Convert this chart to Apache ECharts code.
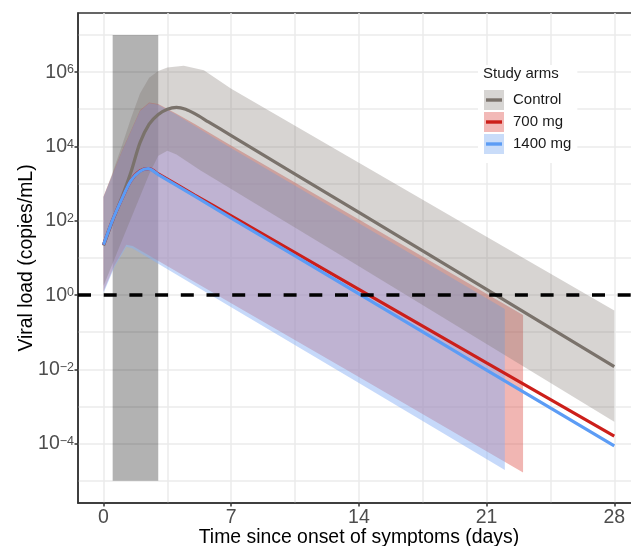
<!DOCTYPE html>
<html><head><meta charset="utf-8">
<script src="https://cdn.jsdelivr.net/npm/echarts@6/dist/echarts.min.js"></script>
<style>html,body{margin:0;padding:0;background:#fff}#c{width:631px;height:546px}</style>
</head><body><div id="c"></div>
<script>
// All y values are log10(viral load, copies/mL); x values are days since symptom onset
const arms = ['Control', '700 mg', '1400 mg'];

const controlLine = [[0,1.33],[0.5,2.0],[1.0,2.62],[1.5,3.3],[2.0,4.1],[2.5,4.6],[3.0,4.86],[3.5,5.0],[4.0,5.05],[4.5,5.0],[5.0,4.88],[5.75,4.66],[7,4.29],[14,2.22],[21,0.15],[28,-1.93]];
const line700 = [[0,1.35],[0.5,2.02],[1.0,2.58],[1.5,3.08],[2.0,3.34],[2.5,3.40],[3,3.26],[5,2.69],[7,2.13],[14,0.15],[21,-1.83],[28,-3.80]];
const line1400 = [[0,1.35],[0.5,2.02],[1.0,2.58],[1.5,3.08],[2.0,3.33],[2.45,3.40],[3,3.24],[5,2.66],[7,2.07],[14,0.03],[21,-2.02],[28,-4.06]];

const controlUpper = [[0,2.64],[0.5,3.3],[1,4.0],[1.5,4.75],[2,5.42],[2.5,5.85],[3,6.03],[3.5,6.12],[4.4,6.17],[5.5,6.05],[7,5.55],[14,3.56],[21,1.57],[28,-0.42]];
const controlLower = [[0,0.25],[0.5,0.85],[1,1.45],[1.5,2.05],[2,2.65],[2.5,3.25],[3,3.75],[3.5,3.88],[4,3.78],[5.3,3.36],[7,2.85],[14,0.77],[21,-1.32],[28,-3.41]];
const upper700 = [[0,2.66],[1,3.87],[2,4.97],[2.5,5.18],[3,5.14],[4,4.88],[5,4.6],[6.66,4.12],[14,2.03],[23,-0.54]];
const lower700 = [[0,0.1],[0.6,0.8],[1.25,1.35],[1.6,1.32],[7,-0.22],[14,-2.21],[23,-4.78]];
const upper1400 = [[0,2.64],[1,3.85],[2,4.95],[2.5,5.16],[3,5.12],[4,4.85],[5,4.55],[6.66,4.05],[14,1.93],[22,-0.38]];
const lower1400 = [[0,0.05],[0.6,0.75],[1.25,1.3],[1.6,1.25],[7,-0.33],[14,-2.37],[22,-4.71]];

const windowDays = [0.5, 3];      // shaded period
const windowLog = [-5, 7];
const detectionLimit = 1;         // copies/mL (dashed line)

const xMajor = [0, 7, 14, 21, 28];
const xGrid = [0, 3.5, 7, 10.5, 14, 17.5, 21, 24.5, 28];
const yMajor = [-4, -2, 0, 2, 4, 6];
const yGrid = [-5, -4, -3, -2, -1, 0, 1, 2, 3, 4, 5, 6, 7];

const FONT = 'Liberation Sans, Arial, sans-serif';
const lineColors = ['#7a726b', '#cc1f1a', '#5c9cf5'];
const bandColors = ['rgba(122,114,107,0.3)', 'rgba(222,80,75,0.42)', 'rgba(135,175,245,0.48)'];
const bandZ = [5, 3, 4];
const swatchColors = ['#d7d5d3', '#f2b9b7', '#c9dcf9'];

const bands = [[controlUpper, controlLower], [upper700, lower700], [upper1400, lower1400]];
const lines = [controlLine, line700, line1400];

const chart = echarts.init(document.getElementById('c'), null, {renderer: 'canvas'});

const series = [];
series.push({
  type: 'custom', name: 'window', silent: true, z: 1, clip: true,
  data: [[windowDays[0], windowLog[0]]],
  renderItem: (params, api) => {
    const p0 = api.coord([windowDays[0], windowLog[1]]);
    const p1 = api.coord([windowDays[1], windowLog[0]]);
    return {type: 'rect', shape: {x: p0[0], y: p0[1], width: p1[0] - p0[0], height: p1[1] - p0[1]},
            style: {fill: 'rgba(0,0,0,0.3)'}};
  }
});
bands.forEach((b, i) => {
  series.push({
    type: 'custom', name: arms[i] + ' band', silent: true, z: bandZ[i], clip: true,
    data: [[b[0][0][0], b[0][0][1]]],
    renderItem: (params, api) => {
      const pts = b[0].map(p => api.coord(p)).concat(b[1].slice().reverse().map(p => api.coord(p)));
      return {type: 'polygon', shape: {points: pts}, style: {fill: bandColors[i]}};
    }
  });
});
lines.forEach((d, i) => {
  series.push({
    type: 'line', name: arms[i], data: d, z: 6 + i, showSymbol: false, symbol: 'none',
    smooth: 0.3, silent: true,
    lineStyle: {color: lineColors[i], width: 3.2},
    itemStyle: {color: lineColors[i]}
  });
});
series.push({
  type: 'line', name: 'limit', data: [], silent: true, z: 20,
  markLine: {
    silent: true, symbol: ['none', 'none'], z: 20, animation: false,
    label: {show: false},
    lineStyle: {color: '#000', width: 3.5, type: [13, 12.7]},
    data: [{yAxis: Math.log10(detectionLimit)}]
  }
});

const tickLabelStyle = {color: '#4d4d4d', fontFamily: FONT, fontSize: 19.5};
const titleStyle = {color: '#000', fontFamily: FONT, fontSize: 19.4};

chart.setOption({
  animation: false,
  backgroundColor: '#fff',
  grid: {left: 78, top: 13, width: 561.8, height: 490, show: true, borderColor: '#333', borderWidth: 1.5,
         backgroundColor: 'transparent', containLabel: false, outerBoundsMode: 'none'},
  xAxis: [{
    type: 'value', min: -1.4, max: 29.4, position: 'bottom',
    axisLine: {show: true, onZero: false, lineStyle: {color: '#333', width: 1.5}},
    axisTick: {show: false, customValues: xGrid},
    splitLine: {show: true, lineStyle: {color: '#ebebeb', width: 1.5}},
    axisLabel: Object.assign({customValues: xMajor, margin: 5}, tickLabelStyle),
    name: 'Time since onset of symptoms (days)', nameLocation: 'middle', nameGap: 25.5,
    nameMoveOverlap: false,
    nameTextStyle: titleStyle
  }, {
    type: 'value', min: -1.4, max: 29.4, position: 'bottom', gridIndex: 0,
    axisLine: {show: false, onZero: false},
    axisTick: {show: true, customValues: xMajor, length: 3.5, lineStyle: {color: '#333', width: 1.5}},
    splitLine: {show: false}, axisLabel: {show: false}
  }],
  yAxis: [{
    type: 'value', min: -5.6, max: 7.59, position: 'left',
    axisLine: {show: true, onZero: false, lineStyle: {color: '#333', width: 1.5}},
    axisTick: {show: false, customValues: yGrid},
    splitLine: {show: true, lineStyle: {color: '#ebebeb', width: 1.5}},
    axisLabel: {
      customValues: yMajor, margin: 4, padding: [1.6, 0, 0, 0],
      formatter: v => '{b|10}{s|' + (v < 0 ? '\u2212' : '') + Math.abs(v) + '}',
      rich: {
        b: {color: '#4d4d4d', fontFamily: FONT, fontSize: 19.5, lineHeight: 19, verticalAlign: 'bottom'},
        s: {color: '#4d4d4d', fontFamily: FONT, fontSize: 12.5, lineHeight: 12.5, verticalAlign: 'top', padding: [0, 0, 10.5, 0]}
      }
    },
    name: 'Viral load (copies/mL)', nameLocation: 'middle', nameGap: 42,
    nameMoveOverlap: false,
    nameTextStyle: titleStyle
  }, {
    type: 'value', min: -5.6, max: 7.59, position: 'left', gridIndex: 0,
    axisLine: {show: false, onZero: false},
    axisTick: {show: true, customValues: yMajor, length: 3.5, lineStyle: {color: '#333', width: 1.5}},
    splitLine: {show: false}, axisLabel: {show: false}
  }],
  legend: {
    orient: 'vertical', left: 478, top: 65, padding: [25, 6, 9, 6], backgroundColor: '#fff',
    itemWidth: 20, itemHeight: 20, itemGap: 2, selectedMode: false, z: 30,
    textStyle: {fontSize: 15, color: '#1a1a1a', fontFamily: FONT, padding: [0, 0, 0, 4]},
    data: arms.map((n, i) => ({name: n, icon: 'rect', itemStyle: {color: swatchColors[i], borderWidth: 0}}))
  },
  graphic: [
    {type: 'text', left: 483, top: 66, z: 40, style: {text: 'Study arms', fontSize: 15, fontFamily: FONT, fill: '#1a1a1a'}}
  ].concat(arms.map((n, i) => ({
    type: 'rect', z: 40, shape: {x: 486, y: 98.3 + 22 * i, width: 16, height: 3.4}, style: {fill: lineColors[i]}
  }))),
  series: series
});
</script>
</body></html>
